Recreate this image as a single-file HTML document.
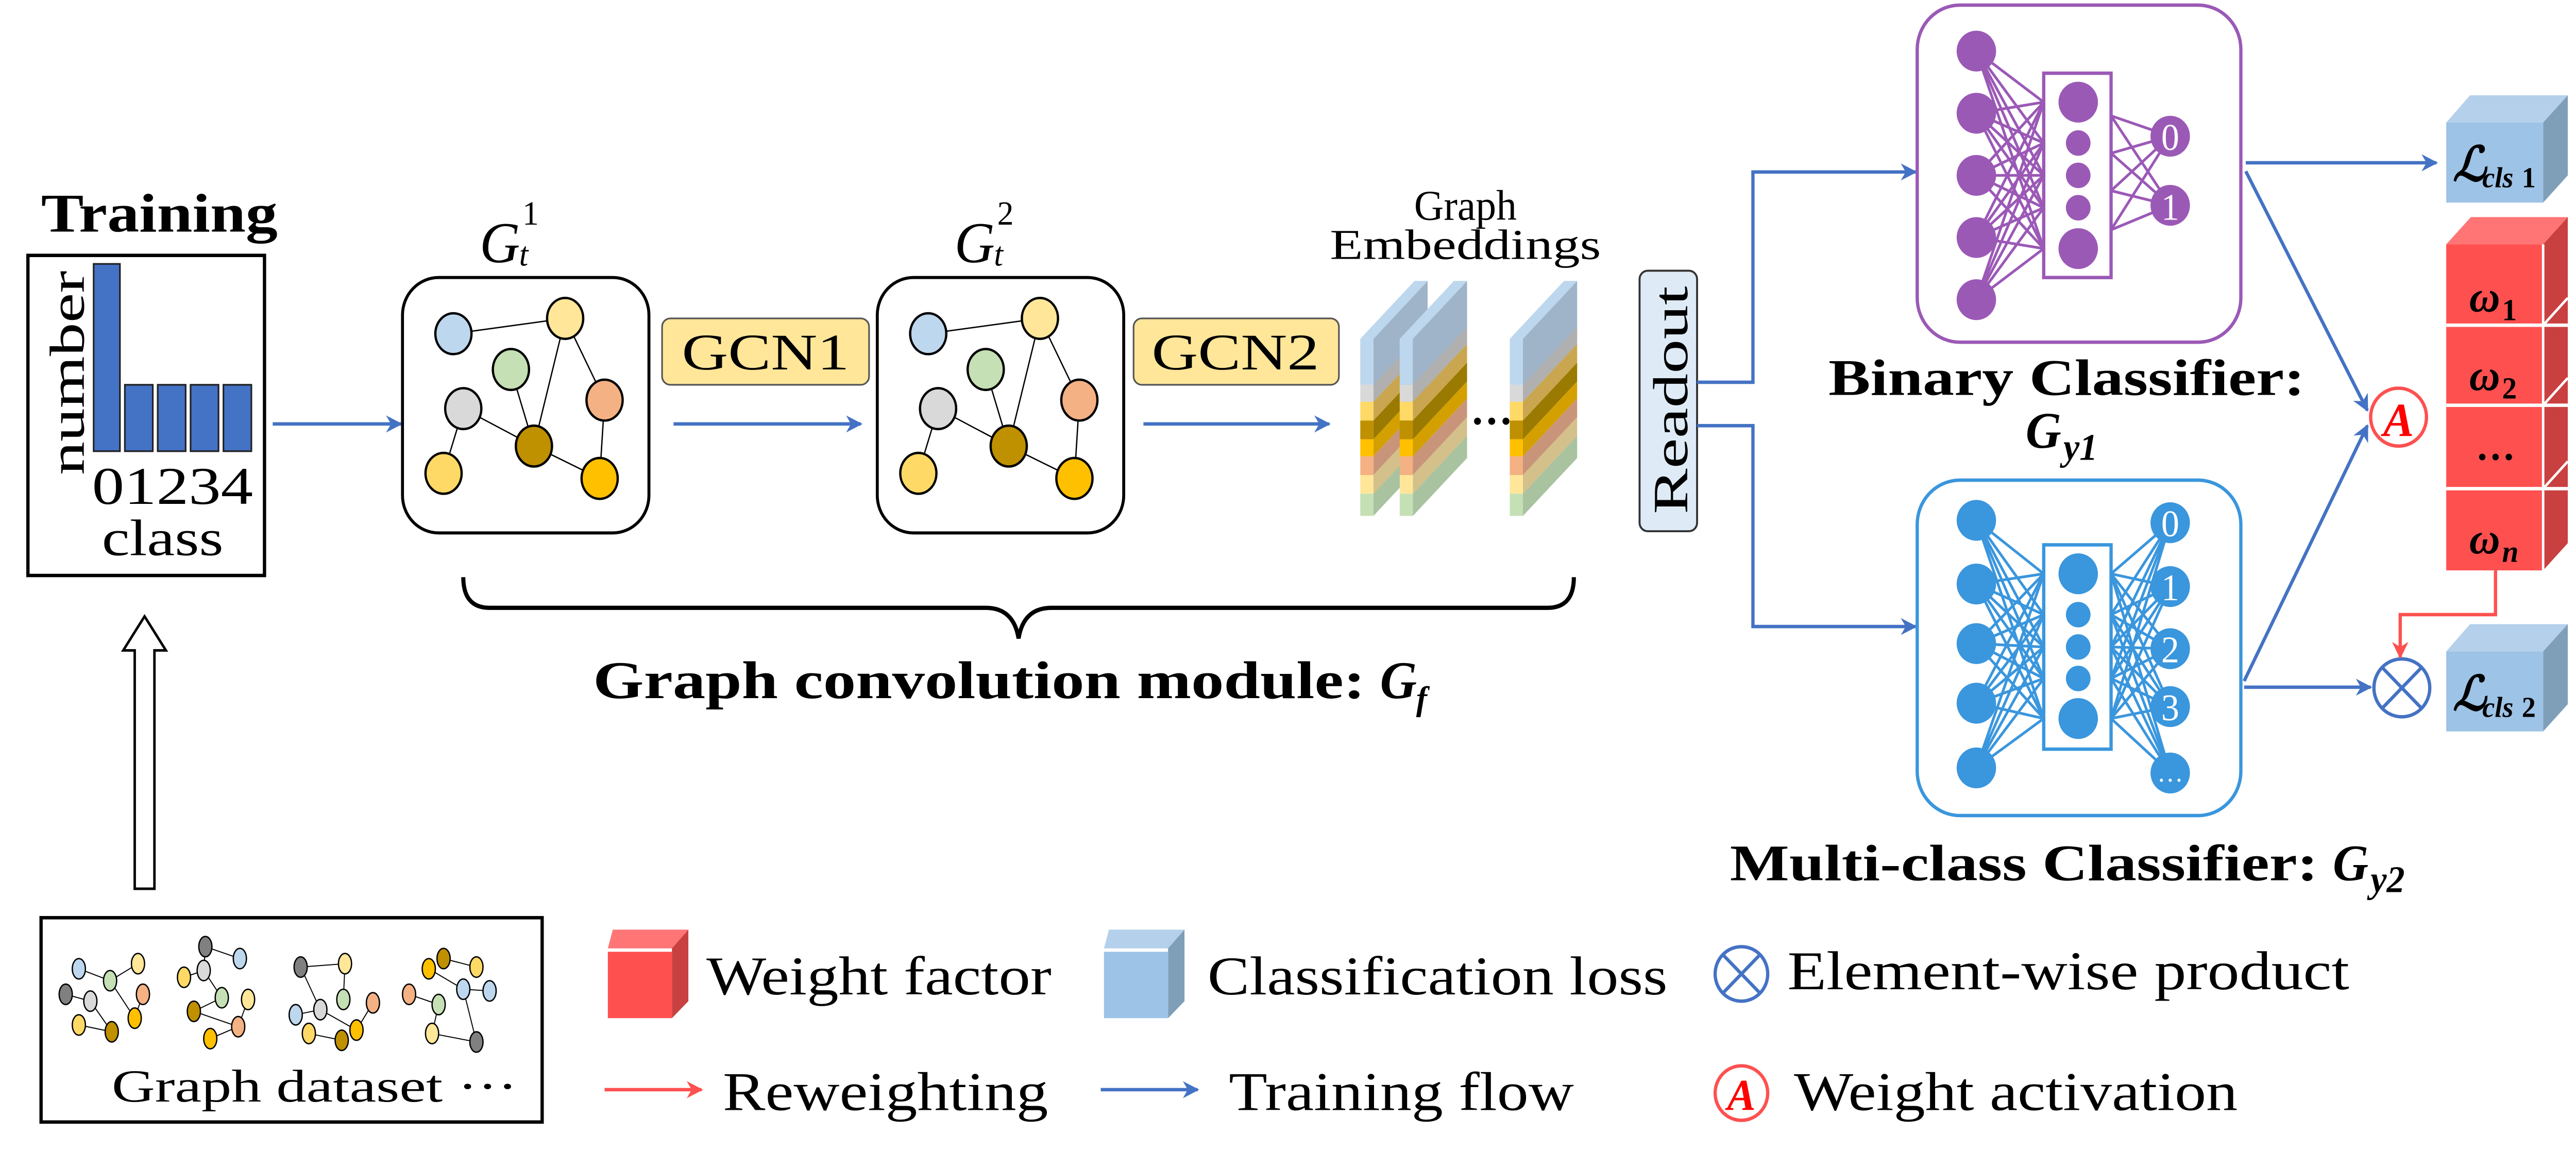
<!DOCTYPE html>
<html><head><meta charset="utf-8"><style>
html,body{margin:0;padding:0;background:#fff;overflow:hidden;width:100%;height:100%;}
svg{display:block;position:fixed;left:0;top:0;width:100vw;height:100vh;}
text{font-family:"Liberation Serif","DejaVu Serif",serif;}
</style></head><body>
<svg viewBox="0 0 1568 686" preserveAspectRatio="none" font-family="Liberation Serif, serif" xmlns="http://www.w3.org/2000/svg">
<defs>
<marker id="ab" markerWidth="10" markerHeight="10" refX="9" refY="5" orient="auto" markerUnits="userSpaceOnUse"><path d="M0,0 L10,5 L0,10 L3,5 z" fill="#4472c4"/></marker>
<marker id="ar" markerWidth="10" markerHeight="10" refX="9" refY="5" orient="auto" markerUnits="userSpaceOnUse"><path d="M0,0 L10,5 L0,10 L3,5 z" fill="#ff5050"/></marker>
</defs>
<rect width="1568" height="686" fill="#fff"/>

<text x="25" y="136" font-size="32" font-weight="bold" textLength="144" lengthAdjust="spacingAndGlyphs">Training</text>
<rect x="17" y="150" width="144" height="188" fill="#fff" stroke="#000" stroke-width="2"/>
<text transform="translate(51,279) rotate(-90)" font-size="30" textLength="120" lengthAdjust="spacingAndGlyphs">number</text>
<rect x="57" y="155" width="16" height="110" fill="#4472c4" stroke="#222" stroke-width="1"/>
<rect x="76" y="226" width="17" height="39" fill="#4472c4" stroke="#222" stroke-width="1"/>
<rect x="96" y="226" width="17" height="39" fill="#4472c4" stroke="#222" stroke-width="1"/>
<rect x="116" y="226" width="17" height="39" fill="#4472c4" stroke="#222" stroke-width="1"/>
<rect x="136" y="226" width="17" height="39" fill="#4472c4" stroke="#222" stroke-width="1"/>
<text x="56" y="296" font-size="31" textLength="98" lengthAdjust="spacingAndGlyphs">01234</text>
<text x="62" y="326" font-size="30" textLength="74" lengthAdjust="spacingAndGlyphs">class</text>

<path d="M82,522 L82,382 L75,382 L88,362 L101,382 L94,382 L94,522 Z" fill="#fff" stroke="#000" stroke-width="1.5"/>

<line x1="166" y1="249" x2="244" y2="249" stroke="#4472c4" stroke-width="2" marker-end="url(#ab)"/>
<line x1="410" y1="249" x2="524" y2="249" stroke="#4472c4" stroke-width="2" marker-end="url(#ab)"/>
<line x1="696" y1="249" x2="809" y2="249" stroke="#4472c4" stroke-width="2" marker-end="url(#ab)"/>

<text x="292" y="154" font-size="34" font-style="italic">G</text><text x="316" y="156" font-size="20" font-style="italic">t</text><text x="318" y="132" font-size="20">1</text>
<text x="581" y="154" font-size="34" font-style="italic">G</text><text x="605" y="156" font-size="20" font-style="italic">t</text><text x="607" y="132" font-size="20">2</text>

<g id="g1">
<rect x="245" y="163" width="150" height="150" rx="22" fill="#fff" stroke="#000" stroke-width="1.8"/>
<g stroke="#000" stroke-width="0.8">
<line x1="276" y1="196" x2="344" y2="187"/><line x1="344" y1="187" x2="325" y2="262"/><line x1="344" y1="187" x2="368" y2="235"/>
<line x1="311" y1="217" x2="325" y2="262"/><line x1="282" y1="240" x2="325" y2="262"/><line x1="282" y1="240" x2="270" y2="278"/>
<line x1="368" y1="235" x2="365" y2="281"/><line x1="325" y1="262" x2="365" y2="281"/>
</g>
<g stroke="#000" stroke-width="1.4">
<ellipse cx="276" cy="196" rx="11" ry="12" fill="#bdd7ee"/>
<ellipse cx="344" cy="187" rx="11" ry="12" fill="#ffe699"/>
<ellipse cx="311" cy="217" rx="11" ry="12" fill="#c5e0b4"/>
<ellipse cx="368" cy="235" rx="11" ry="12" fill="#f4b183"/>
<ellipse cx="282" cy="240" rx="11" ry="12" fill="#d9d9d9"/>
<ellipse cx="325" cy="262" rx="11" ry="12" fill="#bf9000"/>
<ellipse cx="270" cy="278" rx="11" ry="12" fill="#ffd966"/>
<ellipse cx="365" cy="281" rx="11" ry="12" fill="#ffc000"/>
</g>
</g>
<use href="#g1" transform="translate(289,0)"/>

<rect x="403" y="187" width="126" height="39" rx="5" fill="#ffe699" stroke="#555" stroke-width="1"/>
<text x="466" y="217" font-size="30" text-anchor="middle" textLength="102" lengthAdjust="spacingAndGlyphs">GCN1</text>
<rect x="690" y="187" width="125" height="39" rx="5" fill="#ffe699" stroke="#555" stroke-width="1"/>
<text x="752" y="217" font-size="30" text-anchor="middle" textLength="102" lengthAdjust="spacingAndGlyphs">GCN2</text>

<text x="892" y="129" font-size="25" text-anchor="middle">Graph</text>
<text x="892" y="152" font-size="25" text-anchor="middle" textLength="165" lengthAdjust="spacingAndGlyphs">Embeddings</text>
<g id="slab">
<polygon points="836,199 869,165 869,199 836,233" fill="#9fb4c9"/>
<polygon points="836,226 869,192 869,202 836,236" fill="#b0b0b0"/>
<polygon points="836,236 869,202 869,213 836,247" fill="#c9a64f"/>
<polygon points="836,247 869,213 869,224 836,258" fill="#9a7a00"/>
<polygon points="836,258 869,224 869,234 836,268" fill="#d4a000"/>
<polygon points="836,268 869,234 869,245 836,279" fill="#c9957a"/>
<polygon points="836,279 869,245 869,256 836,290" fill="#d4c08a"/>
<polygon points="836,290 869,256 869,269 836,303" fill="#a9c2a0"/>
<polygon points="828,199 861,165 869,165 836,199" fill="#bdd7ee"/>
<rect x="828" y="199" width="8" height="27" fill="#bdd7ee"/>
<rect x="828" y="226" width="8" height="10" fill="#d9d9d9"/>
<rect x="828" y="236" width="8" height="11" fill="#ffd966"/>
<rect x="828" y="247" width="8" height="11" fill="#bf9000"/>
<rect x="828" y="258" width="8" height="10" fill="#ffc000"/>
<rect x="828" y="268" width="8" height="11" fill="#f4b183"/>
<rect x="828" y="279" width="8" height="11" fill="#ffe699"/>
<rect x="828" y="290" width="8" height="13" fill="#c5e0b4"/>
</g>
<use href="#slab" transform="translate(24,0)"/>
<use href="#slab" transform="translate(91,0)"/>
<text x="895" y="256" font-size="26" font-weight="bold">···</text>

<path d="M282,339 Q282,357 298,357 L600,357 Q617,357 620,375 Q623,357 640,357 L942,357 Q958,357 958,339" fill="none" stroke="#000" stroke-width="2.5"/>
<text x="361" y="410" font-size="31" font-weight="bold" textLength="470" lengthAdjust="spacingAndGlyphs">Graph convolution module:</text>
<text x="840" y="410" font-size="31" font-weight="bold" font-style="italic">G</text><text x="862" y="417" font-size="20" font-weight="bold" font-style="italic">f</text>

<rect x="998" y="159" width="35" height="153" rx="5" fill="#deebf7" stroke="#333" stroke-width="1.2"/>
<text transform="translate(1027,302) rotate(-90)" font-size="30" textLength="134" lengthAdjust="spacingAndGlyphs">Readout</text>
<polyline points="1033,224.5 1067,224.5 1067,101 1166,101" fill="none" stroke="#4472c4" stroke-width="2" marker-end="url(#ab)"/>
<polyline points="1033,250 1067,250 1067,368 1166,368" fill="none" stroke="#4472c4" stroke-width="2" marker-end="url(#ab)"/>

<rect x="1167" y="3" width="197" height="198" rx="26" fill="#fff" stroke="#9b59b6" stroke-width="2"/>
<g stroke="#9b59b6" stroke-width="1.6">
<line x1="1203" y1="30" x2="1244" y2="60"/><line x1="1203" y1="30" x2="1244" y2="84"/><line x1="1203" y1="30" x2="1244" y2="103"/><line x1="1203" y1="30" x2="1244" y2="122"/><line x1="1203" y1="30" x2="1244" y2="146"/>
<line x1="1203" y1="66.5" x2="1244" y2="60"/><line x1="1203" y1="66.5" x2="1244" y2="84"/><line x1="1203" y1="66.5" x2="1244" y2="103"/><line x1="1203" y1="66.5" x2="1244" y2="122"/><line x1="1203" y1="66.5" x2="1244" y2="146"/>
<line x1="1203" y1="103" x2="1244" y2="60"/><line x1="1203" y1="103" x2="1244" y2="84"/><line x1="1203" y1="103" x2="1244" y2="103"/><line x1="1203" y1="103" x2="1244" y2="122"/><line x1="1203" y1="103" x2="1244" y2="146"/>
<line x1="1203" y1="139.5" x2="1244" y2="60"/><line x1="1203" y1="139.5" x2="1244" y2="84"/><line x1="1203" y1="139.5" x2="1244" y2="103"/><line x1="1203" y1="139.5" x2="1244" y2="122"/><line x1="1203" y1="139.5" x2="1244" y2="146"/>
<line x1="1203" y1="176" x2="1244" y2="60"/><line x1="1203" y1="176" x2="1244" y2="84"/><line x1="1203" y1="176" x2="1244" y2="103"/><line x1="1203" y1="176" x2="1244" y2="122"/><line x1="1203" y1="176" x2="1244" y2="146"/>
<line x1="1285" y1="68" x2="1321" y2="80"/><line x1="1285" y1="68" x2="1321" y2="120.6"/><line x1="1285" y1="90" x2="1321" y2="80"/><line x1="1285" y1="90" x2="1321" y2="120.6"/><line x1="1285" y1="112" x2="1321" y2="80"/><line x1="1285" y1="112" x2="1321" y2="120.6"/><line x1="1285" y1="135" x2="1321" y2="80"/><line x1="1285" y1="135" x2="1321" y2="120.6"/>
</g>
<rect x="1244" y="43" width="41" height="120" fill="#fff" stroke="#9b59b6" stroke-width="2"/>
<g fill="#9b59b6">
<circle cx="1203" cy="30" r="12"/><circle cx="1203" cy="66.5" r="12"/><circle cx="1203" cy="103" r="12"/><circle cx="1203" cy="139.5" r="12"/><circle cx="1203" cy="176" r="12"/>
<circle cx="1265" cy="60" r="12"/><circle cx="1265" cy="84" r="7.5"/><circle cx="1265" cy="103" r="7.5"/><circle cx="1265" cy="122" r="7.5"/><circle cx="1265" cy="146" r="12"/>
<circle cx="1321" cy="80" r="12"/><circle cx="1321" cy="120.6" r="12"/>
</g>
<text x="1321" y="88" font-size="22" fill="#fff" text-anchor="middle">0</text>
<text x="1321" y="129" font-size="22" fill="#fff" text-anchor="middle">1</text>
<text x="1113" y="232" font-size="30" font-weight="bold" textLength="290" lengthAdjust="spacingAndGlyphs">Binary Classifier:</text>
<text x="1233" y="263" font-size="30" font-weight="bold" font-style="italic">G</text><text x="1256" y="270" font-size="22" font-weight="bold" font-style="italic">y1</text>

<rect x="1167" y="282" width="197" height="197" rx="26" fill="#fff" stroke="#3a96dd" stroke-width="2"/>
<g stroke="#3a96dd" stroke-width="1.6">
<line x1="1203" y1="305.6" x2="1244" y2="337"/><line x1="1203" y1="305.6" x2="1244" y2="361"/><line x1="1203" y1="305.6" x2="1244" y2="380"/><line x1="1203" y1="305.6" x2="1244" y2="398.5"/><line x1="1203" y1="305.6" x2="1244" y2="422"/>
<line x1="1203" y1="343" x2="1244" y2="337"/><line x1="1203" y1="343" x2="1244" y2="361"/><line x1="1203" y1="343" x2="1244" y2="380"/><line x1="1203" y1="343" x2="1244" y2="398.5"/><line x1="1203" y1="343" x2="1244" y2="422"/>
<line x1="1203" y1="378" x2="1244" y2="337"/><line x1="1203" y1="378" x2="1244" y2="361"/><line x1="1203" y1="378" x2="1244" y2="380"/><line x1="1203" y1="378" x2="1244" y2="398.5"/><line x1="1203" y1="378" x2="1244" y2="422"/>
<line x1="1203" y1="413" x2="1244" y2="337"/><line x1="1203" y1="413" x2="1244" y2="361"/><line x1="1203" y1="413" x2="1244" y2="380"/><line x1="1203" y1="413" x2="1244" y2="398.5"/><line x1="1203" y1="413" x2="1244" y2="422"/>
<line x1="1203" y1="451" x2="1244" y2="337"/><line x1="1203" y1="451" x2="1244" y2="361"/><line x1="1203" y1="451" x2="1244" y2="380"/><line x1="1203" y1="451" x2="1244" y2="398.5"/><line x1="1203" y1="451" x2="1244" y2="422"/>
<line x1="1285" y1="337" x2="1321" y2="307"/><line x1="1285" y1="337" x2="1321" y2="344.5"/><line x1="1285" y1="337" x2="1321" y2="381"/><line x1="1285" y1="337" x2="1321" y2="415"/><line x1="1285" y1="337" x2="1321" y2="454"/>
<line x1="1285" y1="361" x2="1321" y2="307"/><line x1="1285" y1="361" x2="1321" y2="344.5"/><line x1="1285" y1="361" x2="1321" y2="381"/><line x1="1285" y1="361" x2="1321" y2="415"/><line x1="1285" y1="361" x2="1321" y2="454"/>
<line x1="1285" y1="380" x2="1321" y2="307"/><line x1="1285" y1="380" x2="1321" y2="344.5"/><line x1="1285" y1="380" x2="1321" y2="381"/><line x1="1285" y1="380" x2="1321" y2="415"/><line x1="1285" y1="380" x2="1321" y2="454"/>
<line x1="1285" y1="398.5" x2="1321" y2="307"/><line x1="1285" y1="398.5" x2="1321" y2="344.5"/><line x1="1285" y1="398.5" x2="1321" y2="381"/><line x1="1285" y1="398.5" x2="1321" y2="415"/><line x1="1285" y1="398.5" x2="1321" y2="454"/>
<line x1="1285" y1="422" x2="1321" y2="307"/><line x1="1285" y1="422" x2="1321" y2="344.5"/><line x1="1285" y1="422" x2="1321" y2="381"/><line x1="1285" y1="422" x2="1321" y2="415"/><line x1="1285" y1="422" x2="1321" y2="454"/>
</g>
<rect x="1244" y="320" width="41" height="120" fill="#fff" stroke="#3a96dd" stroke-width="2"/>
<g fill="#3a96dd">
<circle cx="1203" cy="305.6" r="12"/><circle cx="1203" cy="343" r="12"/><circle cx="1203" cy="378" r="12"/><circle cx="1203" cy="413" r="12"/><circle cx="1203" cy="451" r="12"/>
<circle cx="1265" cy="337" r="12"/><circle cx="1265" cy="361" r="7.5"/><circle cx="1265" cy="380" r="7.5"/><circle cx="1265" cy="398.5" r="7.5"/><circle cx="1265" cy="422" r="12"/>
<circle cx="1321" cy="307" r="12"/><circle cx="1321" cy="344.5" r="12"/><circle cx="1321" cy="381" r="12"/><circle cx="1321" cy="415" r="12"/><circle cx="1321" cy="454" r="12"/>
</g>
<g font-size="22" fill="#fff" text-anchor="middle">
<text x="1321" y="315">0</text><text x="1321" y="352.5">1</text><text x="1321" y="389">2</text><text x="1321" y="423">3</text><text x="1321" y="459" font-size="16">…</text>
</g>
<text x="1053" y="517" font-size="30" font-weight="bold" textLength="358" lengthAdjust="spacingAndGlyphs">Multi-class Classifier:</text>
<text x="1420" y="517" font-size="30" font-weight="bold" font-style="italic">G</text><text x="1443" y="524" font-size="22" font-weight="bold" font-style="italic">y2</text>

<line x1="1367" y1="95.6" x2="1483" y2="95.6" stroke="#4472c4" stroke-width="2" marker-end="url(#ab)"/>
<line x1="1367" y1="100.6" x2="1441" y2="241" stroke="#4472c4" stroke-width="2" marker-end="url(#ab)"/>
<line x1="1366" y1="400" x2="1441" y2="250" stroke="#4472c4" stroke-width="2" marker-end="url(#ab)"/>
<line x1="1366" y1="403.6" x2="1443" y2="403.6" stroke="#4472c4" stroke-width="2" marker-end="url(#ab)"/>
<circle cx="1460" cy="245" r="17" fill="#fff" stroke="#ff5050" stroke-width="2"/>
<text x="1460" y="256" font-size="28" font-weight="bold" font-style="italic" fill="#ff0000" text-anchor="middle">A</text>
<circle cx="1462" cy="404" r="17" fill="#fff" stroke="#4472c4" stroke-width="2"/>
<path d="M1450,392 L1474,416 M1474,392 L1450,416" stroke="#4472c4" stroke-width="2"/>

<polyline points="1519,335 1519,361 1461,361 1461,386" fill="none" stroke="#ff5050" stroke-width="2" marker-end="url(#ar)"/>

<polygon points="1489,72 1503.5,56 1563,56 1548,72" fill="#b4d0eb"/>
<polygon points="1548,72 1563,56 1563,103 1548,119" fill="#7f9eb8"/>
<rect x="1489" y="72" width="59" height="47" fill="#9dc3e6"/>
<text x="1493" y="106" font-size="28" font-weight="bold" font-style="italic">ℒ</text><text x="1511" y="110" font-size="17" font-weight="bold" font-style="italic">cls</text><text x="1535" y="110" font-size="17" font-weight="bold">1</text>
<polygon points="1489,382.6 1503.5,366.6 1563,366.6 1548,382.6" fill="#b4d0eb"/>
<polygon points="1548,382.6 1563,366.6 1563,413.6 1548,429.6" fill="#7f9eb8"/>
<rect x="1489" y="382.6" width="59" height="47" fill="#9dc3e6"/>
<text x="1493" y="417" font-size="28" font-weight="bold" font-style="italic">ℒ</text><text x="1511" y="421" font-size="17" font-weight="bold" font-style="italic">cls</text><text x="1535" y="421" font-size="17" font-weight="bold">2</text>

<polygon points="1489,143.5 1504,127.5 1563,127.5 1548,143.5" fill="#ff7575"/>
<polygon points="1548,143.5 1563,127.5 1563,319 1548,335" fill="#c94040"/>
<rect x="1489" y="143.5" width="59" height="191.5" fill="#ff5050"/>
<g stroke="#fff" stroke-width="2"><line x1="1489" y1="191" x2="1563" y2="191"/><line x1="1489" y1="238" x2="1563" y2="238"/><line x1="1489" y1="287" x2="1563" y2="287"/></g>
<g stroke="#fff" stroke-width="1.5"><line x1="1548" y1="191" x2="1563" y2="175"/><line x1="1548" y1="238" x2="1563" y2="222"/><line x1="1548" y1="287" x2="1563" y2="271"/><line x1="1548" y1="143.5" x2="1548" y2="335"/></g>
<g font-weight="bold" font-style="italic">
<text x="1503" y="183" font-size="26">ω</text><text x="1523" y="188" font-size="18" font-style="normal">1</text>
<text x="1503" y="229" font-size="26">ω</text><text x="1523" y="234" font-size="18" font-style="normal">2</text>
<text x="1507" y="270" font-size="24" font-style="normal">…</text>
<text x="1503" y="325" font-size="26">ω</text><text x="1523" y="330" font-size="18">n</text>
</g>

<rect x="25" y="539" width="305" height="120" fill="#fff" stroke="#000" stroke-width="2"/>
<g stroke="#000" stroke-width="0.6">
<line x1="48" y1="569" x2="67" y2="576"/><line x1="67" y1="576" x2="84" y2="566"/><line x1="67" y1="576" x2="82" y2="598"/><line x1="40" y1="584" x2="55" y2="588"/><line x1="55" y1="588" x2="68" y2="606"/><line x1="48" y1="602" x2="68" y2="606"/><line x1="87" y1="584" x2="82" y2="598"/>
<line x1="125" y1="556" x2="146" y2="563"/><line x1="125" y1="556" x2="124" y2="570"/><line x1="112" y1="574" x2="124" y2="570"/><line x1="124" y1="570" x2="135" y2="586"/><line x1="135" y1="586" x2="118" y2="594"/><line x1="118" y1="594" x2="145" y2="603"/><line x1="145" y1="603" x2="128" y2="610"/><line x1="151" y1="587" x2="145" y2="603"/>
<line x1="183" y1="568" x2="210" y2="566"/><line x1="183" y1="568" x2="195" y2="593"/><line x1="210" y1="566" x2="209" y2="587"/><line x1="180" y1="596" x2="195" y2="593"/><line x1="195" y1="593" x2="217" y2="605"/><line x1="188" y1="607" x2="208" y2="611"/><line x1="227" y1="589" x2="217" y2="605"/>
<line x1="270" y1="563" x2="290" y2="568"/><line x1="261" y1="569" x2="282" y2="581"/><line x1="249" y1="584" x2="267" y2="590"/><line x1="267" y1="590" x2="263" y2="607"/><line x1="282" y1="581" x2="298" y2="582"/><line x1="282" y1="581" x2="290" y2="612"/><line x1="263" y1="607" x2="290" y2="612"/>
</g>
<g stroke="#000" stroke-width="0.8">
<ellipse cx="48" cy="569" rx="4" ry="6" fill="#bdd7ee"/><ellipse cx="67" cy="576" rx="4" ry="6" fill="#c5e0b4"/><ellipse cx="84" cy="566" rx="4" ry="6" fill="#ffe699"/><ellipse cx="40" cy="584" rx="4" ry="6" fill="#808080"/><ellipse cx="55" cy="588" rx="4" ry="6" fill="#d9d9d9"/><ellipse cx="87" cy="584" rx="4" ry="6" fill="#f4b183"/><ellipse cx="48" cy="602" rx="4" ry="6" fill="#ffd966"/><ellipse cx="68" cy="606" rx="4" ry="6" fill="#bf9000"/><ellipse cx="82" cy="598" rx="4" ry="6" fill="#ffc000"/>
<ellipse cx="125" cy="556" rx="4" ry="6" fill="#808080"/><ellipse cx="146" cy="563" rx="4" ry="6" fill="#bdd7ee"/><ellipse cx="124" cy="570" rx="4" ry="6" fill="#d9d9d9"/><ellipse cx="112" cy="574" rx="4" ry="6" fill="#ffd966"/><ellipse cx="135" cy="586" rx="4" ry="6" fill="#c5e0b4"/><ellipse cx="151" cy="587" rx="4" ry="6" fill="#ffe699"/><ellipse cx="118" cy="594" rx="4" ry="6" fill="#bf9000"/><ellipse cx="145" cy="603" rx="4" ry="6" fill="#f4b183"/><ellipse cx="128" cy="610" rx="4" ry="6" fill="#ffc000"/>
<ellipse cx="183" cy="568" rx="4" ry="6" fill="#808080"/><ellipse cx="210" cy="566" rx="4" ry="6" fill="#ffe699"/><ellipse cx="209" cy="587" rx="4" ry="6" fill="#c5e0b4"/><ellipse cx="227" cy="589" rx="4" ry="6" fill="#f4b183"/><ellipse cx="180" cy="596" rx="4" ry="6" fill="#bdd7ee"/><ellipse cx="195" cy="593" rx="4" ry="6" fill="#d9d9d9"/><ellipse cx="217" cy="605" rx="4" ry="6" fill="#ffc000"/><ellipse cx="188" cy="607" rx="4" ry="6" fill="#ffd966"/><ellipse cx="208" cy="611" rx="4" ry="6" fill="#bf9000"/>
<ellipse cx="270" cy="563" rx="4" ry="6" fill="#bf9000"/><ellipse cx="261" cy="569" rx="4" ry="6" fill="#ffc000"/><ellipse cx="290" cy="568" rx="4" ry="6" fill="#ffd966"/><ellipse cx="282" cy="581" rx="4" ry="6" fill="#bdd7ee"/><ellipse cx="298" cy="582" rx="4" ry="6" fill="#bdd7ee"/><ellipse cx="249" cy="584" rx="4" ry="6" fill="#f4b183"/><ellipse cx="267" cy="590" rx="4" ry="6" fill="#c5e0b4"/><ellipse cx="263" cy="607" rx="4" ry="6" fill="#ffe699"/><ellipse cx="290" cy="612" rx="4" ry="6" fill="#808080"/>
</g>
<text x="68" y="647" font-size="27" textLength="247" lengthAdjust="spacingAndGlyphs">Graph dataset ···</text>

<polygon points="370,557 373,546 419,546 409,557" fill="#ff7575"/>
<polygon points="409,557 419,546 419,588 409,598" fill="#c94040"/>
<rect x="370" y="559" width="39" height="39" fill="#ff5050"/>
<text x="430" y="584" font-size="32" textLength="210" lengthAdjust="spacingAndGlyphs">Weight factor</text>
<polygon points="672,557 675,546 721,546 711,557" fill="#b4d0eb"/>
<polygon points="711,557 721,546 721,588 711,598" fill="#7f9eb8"/>
<rect x="672" y="559" width="39" height="39" fill="#9dc3e6"/>
<text x="735" y="584" font-size="32" textLength="280" lengthAdjust="spacingAndGlyphs">Classification loss</text>
<circle cx="1060" cy="572" r="16" fill="#fff" stroke="#4472c4" stroke-width="2"/>
<path d="M1049,561 L1071,583 M1071,561 L1049,583" stroke="#4472c4" stroke-width="2"/>
<text x="1088" y="581" font-size="32" textLength="342" lengthAdjust="spacingAndGlyphs">Element-wise product</text>

<line x1="368" y1="640" x2="427" y2="640" stroke="#ff5050" stroke-width="2" marker-end="url(#ar)"/>
<text x="440" y="652" font-size="32" textLength="198" lengthAdjust="spacingAndGlyphs">Reweighting</text>
<line x1="670" y1="640" x2="729" y2="640" stroke="#4472c4" stroke-width="2" marker-end="url(#ab)"/>
<text x="748" y="652" font-size="32" textLength="210" lengthAdjust="spacingAndGlyphs">Training flow</text>
<circle cx="1060" cy="642" r="16" fill="#fff" stroke="#ff5050" stroke-width="2"/>
<text x="1060" y="652" font-size="26" font-weight="bold" font-style="italic" fill="#ff0000" text-anchor="middle">A</text>
<text x="1092" y="652" font-size="32" textLength="270" lengthAdjust="spacingAndGlyphs">Weight activation</text>
</svg>
</body></html>
